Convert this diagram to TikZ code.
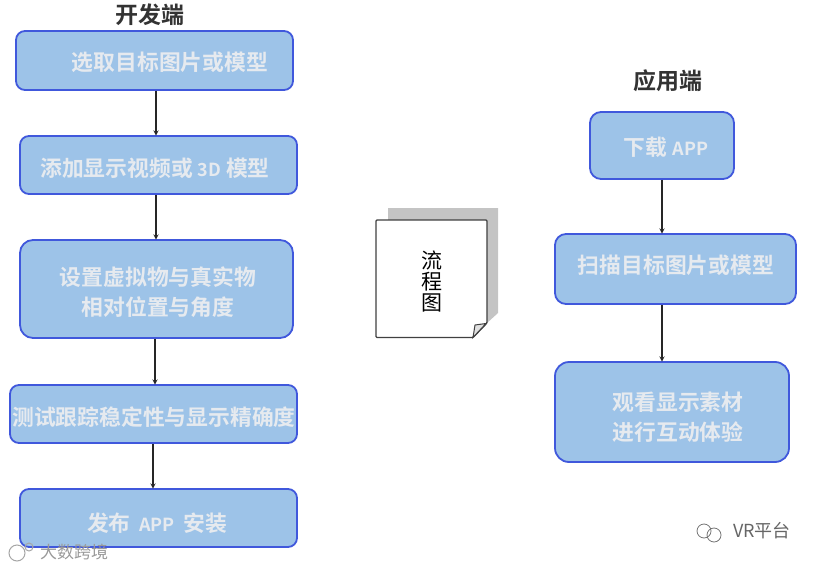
\documentclass[tikz,border=0pt]{standalone}
\usepackage{fontspec}
\usepackage{tikz}
\usetikzlibrary{positioning}
\usetikzlibrary{calc}
\setmainfont{Noto Sans CJK SC}
\newfontfamily\boldcjk{Noto Sans CJK SC Bold}
\newcommand{\latinpart}[1]{{\fontsize{18}{30}\selectfont #1}}
\definecolor{boxfill}{HTML}{9DC3E8}
\definecolor{boxline}{HTML}{4058DC}
\definecolor{boxtext}{HTML}{E6EAEF}
\definecolor{sheetshade}{HTML}{C4C4C4}
\tikzset{
  flowbox/.style={draw=boxline,fill=boxfill,line width=1.8pt,rounded corners=9pt,inner sep=0pt},
  boxlabel/.style={inner sep=0pt,text=boxtext,align=center,font=\boldcjk\fontsize{21.8}{30}\selectfont},
  flowarrow/.style={->,>=stealth,line width=1.3pt,black!85,shorten >=-0.5pt},
  sidetitle/.style={inner sep=0pt,text=black!80,font=\boldcjk\fontsize{23}{26}\selectfont},
  markmark/.style={inner sep=0pt,text=black!45,font=\fontsize{18}{20}\selectfont}
}
\begin{document}
\begin{tikzpicture}[x=1pt,y=-1pt]
\useasboundingbox (0,0) rectangle (821,567);
\node (devtitle) [sidetitle] at (149.5,15) {开发端};
\node (apptitle) [sidetitle] at (667.5,81) {应用端};
\node (pick) [flowbox,minimum width=277pt,minimum height=59pt] at (154.5,60.5) {};
\node (media) [flowbox,minimum width=277pt,minimum height=58pt] at (158.5,165) {};
\node (pose) [flowbox,rounded corners=13pt,minimum width=273pt,minimum height=98pt] at (156.5,289) {};
\node (test) [flowbox,minimum width=287pt,minimum height=58pt] at (153.5,414) {};
\node (publish) [flowbox,minimum width=277pt,minimum height=58pt] at (158.5,518) {};
\node (fetch) [flowbox,rounded corners=11pt,minimum width=144pt,minimum height=67pt] at (662,145.5) {};
\node (scan) [flowbox,rounded corners=11pt,minimum width=241pt,minimum height=70pt] at (675.5,269) {};
\node (view) [flowbox,rounded corners=14pt,minimum width=234pt,minimum height=100pt] at (672,412) {};
\node (picktext) [boxlabel] at (170,62) {选取目标图片或模型};
\node (mediatext) [boxlabel] at (155,168) {添加显示视频或 \latinpart{3D} 模型};
\node (posetext) [boxlabel] at (158,292) {设置虚拟物与真实物\\相对位置与角度};
\node (testtext) [boxlabel] at (154,417) {测试跟踪稳定性与显示精确度};
\node (publishtext) [boxlabel] at (157,523) {发布 \,\latinpart{APP}\, 安装};
\node (fetchtext) [boxlabel] at (666,147) {下载 \latinpart{APP}};
\node (scantext) [boxlabel] at (676,265) {扫描目标图片或模型};
\node (viewtext) [boxlabel] at (678,417) {观看显示素材\\进行互动体验};
\draw[flowarrow] ([xshift=1.5pt]pick.south) -- ([xshift=-2.5pt]media.north);
\draw[flowarrow] ([xshift=-2.5pt]media.south) -- ([xshift=-0.5pt]pose.north);
\draw[flowarrow] ([xshift=-1.5pt]pose.south) -- ([xshift=1.5pt]test.north);
\draw[flowarrow] ([xshift=-0.5pt]test.south) -- ([xshift=-5.5pt]publish.north);
\draw[flowarrow] (fetch.south) -- ([xshift=-13.5pt]scan.north);
\draw[flowarrow] ([xshift=-13.5pt]scan.south) -- ([xshift=-10pt]view.north);
\fill[sheetshade] (388,208) -- (498,208) -- (498,313) -- (487,323) -- (487,220) -- (388,220) -- cycle;
\draw[black!75,line width=1.3pt,fill=white,rounded corners=1pt] (376,220) -- (487,220) -- (487,323) -- (473,337.5) -- (376,337.5) -- cycle;
\draw[black!75,line width=1pt,fill=black!12] (475,325) -- (486,323.5) -- (473,337.5) -- cycle;
\node (sheetlabel) [inner sep=0pt,align=center,font=\fontsize{21}{21}\selectfont] at (432,282) {流\\程\\图};
\draw[black!35,line width=1pt] (17,553) circle (8pt);
\draw[black!35,line width=1pt] (29,547) circle (4pt);
\node (leftmark) [markmark,text=black!40,font=\fontsize{17}{20}\selectfont] at (74,552) {大数跨境};
\draw[black!55,line width=0.8pt] (704,531) circle (7pt);
\draw[black!55,line width=0.8pt] (714,535) circle (7pt);
\node (rightmark) [markmark,text=black!60] at (762,531) {VR平台};
\end{tikzpicture}
\end{document}
